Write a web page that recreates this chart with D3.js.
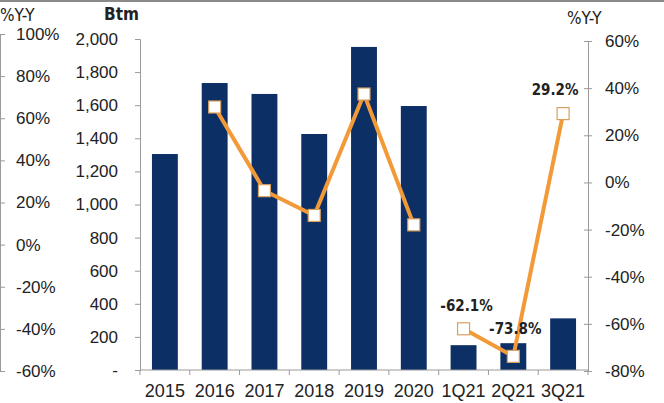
<!DOCTYPE html>
<html>
<head>
<meta charset="utf-8">
<script src="https://cdn.jsdelivr.net/npm/d3@7"></script>
<style>
  html, body { margin: 0; padding: 0; background: #fff; }
  svg { display: block; }
  .tick text { fill: #222; }
</style>
</head>
<body>
<svg id="chart" width="664" height="403"></svg>
<script>
// Sales volume (Btm) and year-on-year growth
const categories = ["2015", "2016", "2017", "2018", "2019", "2020", "1Q21", "2Q21", "3Q21"];
const volume = [1305, 1734, 1668, 1426, 1952, 1595, 150, 162, 312];
// growth series: null where no point; the line breaks between annual and quarterly parts
const yoyAnnual = [null, 32, -3.5, -14, 37.5, -18, null, null, null];
const yoyQuarter = [null, null, null, null, null, null, -62.1, -73.8, 29.2];
const labelled = ["1Q21", "2Q21", "3Q21"];

const btmTicks = [0, 200, 400, 600, 800, 1000, 1200, 1400, 1600, 1800, 2000];
const rightTicks = [-80, -60, -40, -20, 0, 20, 40, 60];
const leftTicks = [-60, -40, -20, 0, 20, 40, 60, 80, 100];

const svg = d3.select("#chart");
const axisFont = "'Liberation Sans', Arial, sans-serif";
const titleFont = "'DejaVu Sans Condensed', 'DejaVu Sans', Verdana, sans-serif";
const axisColor = "#9a9a9a";

// frame line along the top edge
svg.append("line").attr("x1", 0).attr("x2", 664).attr("y1", 1).attr("y2", 1)
  .attr("stroke", "#8a8a8a").attr("stroke-width", 2);

const x = d3.scaleBand().domain(categories).range([140, 588])
  .paddingInner(0.48).paddingOuter(0.24);
const yBar = d3.scaleLinear().domain([0, 2000]).range([370, 39]);
const yPct = d3.scaleLinear().domain([-80, 60]).range([371, 41]);
const yOuter = d3.scaleLinear().domain([-60, 100]).range([371, 34]);

// bars
svg.append("g").selectAll("rect").data(categories).join("rect")
  .attr("x", d => x(d))
  .attr("width", x.bandwidth())
  .attr("y", (d, i) => yBar(volume[i]))
  .attr("height", (d, i) => yBar(0) - yBar(volume[i]))
  .attr("fill", "#0c2f66");

// Btm axis
const gBtm = svg.append("g").attr("transform", "translate(140,0)")
  .call(d3.axisLeft(yBar).tickValues(btmTicks).tickSize(5).tickPadding(17)
    .tickFormat(d => d === 0 ? "-" : d3.format(",")(d)));
gBtm.select(".domain").attr("stroke", axisColor);
gBtm.selectAll(".tick line").attr("stroke", axisColor);
gBtm.selectAll("text").attr("font-family", axisFont).attr("font-size", 17);

// outer growth axis at the far left (ticks only)
const gOuter = svg.append("g").attr("transform", "translate(0,0)")
  .call(d3.axisRight(yOuter).tickValues(leftTicks).tickSize(5).tickPadding(11)
    .tickFormat(d => d + "%"));
gOuter.select(".domain").attr("stroke", axisColor);
gOuter.selectAll(".tick line").attr("stroke", axisColor);
gOuter.selectAll("text").attr("font-family", axisFont).attr("font-size", 17);

// right growth axis
const gRight = svg.append("g").attr("transform", "translate(588,0)")
  .call(d3.axisRight(yPct).tickValues(rightTicks).tickSize(4).tickPadding(13)
    .tickFormat(d => d + "%"));
gRight.select(".domain").attr("stroke", axisColor);
gRight.selectAll(".tick line").attr("stroke", axisColor).attr("x1", -4);
gRight.selectAll("text").attr("font-family", axisFont).attr("font-size", 17);

// category axis with ticks on band boundaries
const gX = svg.append("g").attr("transform", "translate(0,370)");
gX.append("line").attr("x1", x.range()[0]).attr("x2", x.range()[1])
  .attr("stroke", axisColor);
gX.selectAll("line.b").data(d3.range(categories.length + 1)).join("line")
  .attr("class", "b")
  .attr("x1", i => x.range()[0] + i * x.step())
  .attr("x2", i => x.range()[0] + i * x.step())
  .attr("y1", 0).attr("y2", 5).attr("stroke", axisColor);
gX.selectAll("text").data(categories).join("text")
  .attr("x", d => x(d) + x.bandwidth() / 2)
  .attr("y", 27)
  .attr("text-anchor", "middle")
  .attr("font-family", axisFont).attr("font-size", 18).attr("fill", "#222")
  .text(d => d);

// axis titles
svg.append("text").attr("x", 0).attr("y", 21).attr("font-family", titleFont)
  .attr("font-size", 17).attr("fill", "#222").text("%Y-Y");
svg.append("text").attr("x", 104).attr("y", 20).attr("font-family", titleFont)
  .attr("font-size", 17).attr("font-weight", "bold").attr("fill", "#222").text("Btm");
svg.append("text").attr("x", 567).attr("y", 24).attr("font-family", titleFont)
  .attr("font-size", 17).attr("fill", "#222").text("%Y-Y");

// growth lines
const cx = d => x(d) + x.bandwidth() / 2;
const line = d3.line().defined(d => d.v !== null).x(d => cx(d.c)).y(d => yPct(d.v));
[yoyAnnual, yoyQuarter].forEach(series => {
  const pts = categories.map((c, i) => ({ c, v: series[i] }));
  svg.append("path").datum(pts).attr("d", line)
    .attr("fill", "none").attr("stroke", "#f29a38").attr("stroke-width", 4)
    .attr("stroke-linejoin", "round");
});

// markers
const allPts = categories.map((c, i) => ({
  c, v: yoyAnnual[i] !== null ? yoyAnnual[i] : yoyQuarter[i]
})).filter(d => d.v !== null);
svg.append("g").selectAll("rect").data(allPts).join("rect")
  .attr("x", d => cx(d.c) - 6).attr("y", d => yPct(d.v) - 6)
  .attr("width", 12).attr("height", 12)
  .attr("fill", "#fff").attr("stroke", "#d9a15e").attr("stroke-width", 1.2);

// value labels on quarterly points
const labelOffset = { "1Q21": [3, -18], "2Q21": [2, -22], "3Q21": [-8, -19] };
svg.append("g").selectAll("text").data(allPts.filter(d => labelled.includes(d.c))).join("text")
  .attr("x", d => cx(d.c) + labelOffset[d.c][0])
  .attr("y", d => yPct(d.v) + labelOffset[d.c][1])
  .attr("text-anchor", "middle")
  .attr("font-family", titleFont).attr("font-size", 15).attr("font-weight", "bold")
  .attr("fill", "#222")
  .text(d => d.v.toFixed(1) + "%");
</script>
</body>
</html>
